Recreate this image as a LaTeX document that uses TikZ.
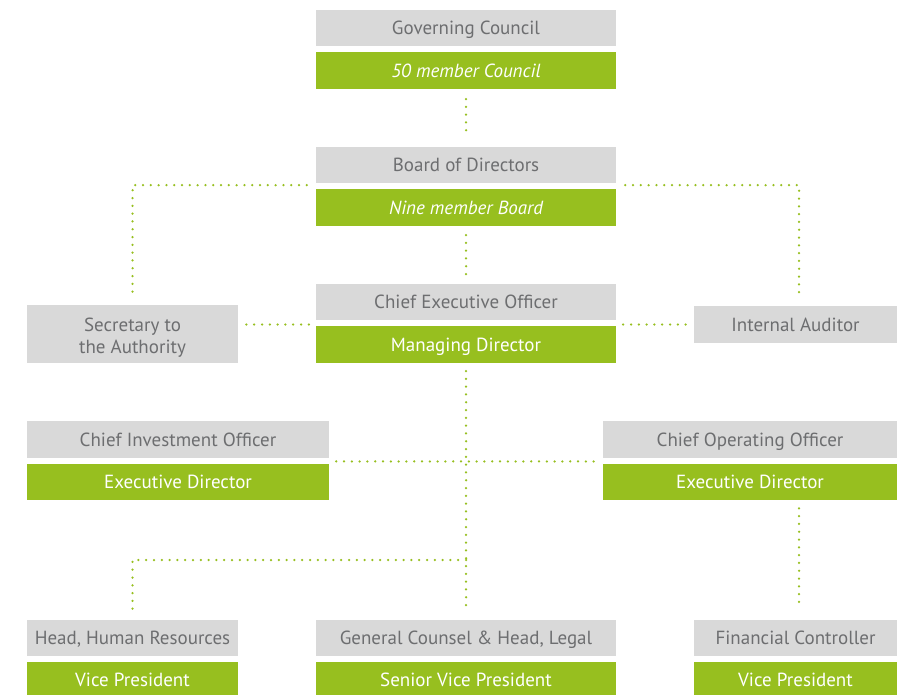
\documentclass[tikz,border=0pt]{standalone}
\usepackage{fontspec}
\setmainfont{PT Sans}
\usetikzlibrary{positioning}

\definecolor{boxgray}{HTML}{D9D9D9}
\definecolor{boxgreen}{HTML}{97BF1F}
\definecolor{txtgray}{HTML}{6D6E70}

\begin{document}
\begin{tikzpicture}[x=1pt, y=-1pt, node distance={5.5pt},
    box/.style = {minimum height=36.5pt, inner sep=0pt, text height=15.5pt, text depth=2pt, font=\fontsize{19}{23}\selectfont},
    title/.style = {box, fill=boxgray, text=txtgray},
    role/.style = {box, fill=boxgreen, text=white},
    link/.style = {draw=boxgreen, line width=2.5pt, line cap=round, dash pattern=on 0pt off 7.8pt}]
    \fill[white] (0,0) rectangle (897,695);
    \useasboundingbox (0,0) rectangle (897,695);

    \node[title, minimum width=300pt] (gov) at (466,28.2) {Governing Council};
    \node[role, minimum width=300pt] (govsub) [below=of gov] {\itshape 50 member Council};
    \node[title, minimum width=300pt] (board) at (466,165.2) {Board of Directors};
    \node[role, minimum width=300pt] (boardsub) [below=of board] {\itshape Nine member Board};
    \node[title, minimum width=300pt] (ceo) at (466,302.2) {Chief Executive Officer};
    \node[role, minimum width=300pt] (ceosub) [below=of ceo] {Managing Director};
    \node[title, align=center, font=\fontsize{19}{22}\selectfont, text height=41pt, text depth=2pt,
        minimum width=211pt, minimum height=58pt] (sec) at (132.5,334) {Secretary to\\the Authority};
    \node[title, minimum width=203pt] (audit) at (795.5,324.5) {Internal Auditor};

    \node[title, minimum width=302pt] (cio) at (178,439.5) {Chief Investment Officer};
    \node[role, minimum width=302pt] (ciosub) [below=of cio] {Executive Director};
    \node[title, minimum width=294pt] (coo) at (750,439.5) {Chief Operating Officer};
    \node[role, minimum width=294pt] (coosub) [below=of coo] {Executive Director};

    \node[title, minimum width=211pt] (hr) at (132.5,637.8) {Head, Human Resources};
    \node[role, minimum width=211pt] (hrsub) [below=of hr] {Vice President};
    \node[title, minimum width=300pt] (legal) at (466,637.8) {General Counsel \& Head, Legal};
    \node[role, minimum width=300pt] (legalsub) [below=of legal] {Senior Vice President};
    \node[title, minimum width=203pt] (fin) at (795.5,637.8) {Financial Controller};
    \node[role, minimum width=203pt] (finsub) [below=of fin] {Vice President};

    \coordinate (split) at (466,560);

    \draw[link, shorten <=10pt, shorten >=10pt] (govsub.south) -- (board.north);
    \draw[link, shorten <=9pt, shorten >=9pt] (boardsub.south) -- (ceo.north);
    \draw[link, shorten <=9pt, shorten >=8pt] ([yshift=-1.5pt]board.south west) -| (sec.north);
    \draw[link, shorten <=9pt, shorten >=8pt] ([yshift=-1.5pt]board.south east) -| ([xshift=3.5pt]audit.north);
    \draw[link, shorten <=7pt, shorten >=7pt] (ceo.west |- audit.west) -- (sec.east |- audit.west);
    \draw[link, shorten <=7pt, shorten >=7pt] (ceo.east |- audit.west) -- (audit.west);
    \draw[link, shorten <=8pt, shorten >=8pt] (ceosub.south) -- (legal.north);
    \draw[link, shorten <=7pt, shorten >=6pt] ([yshift=-3.5pt]cio.south east) -- ([yshift=-3.5pt]coo.south west);
    \draw[link, shorten >=8pt] (split) -| (hr.north);
    \draw[link, shorten <=8pt, shorten >=10pt] ([xshift=3.5pt]coosub.south -| fin.north) -- ([xshift=3.5pt]fin.north);
\end{tikzpicture}
\end{document}
